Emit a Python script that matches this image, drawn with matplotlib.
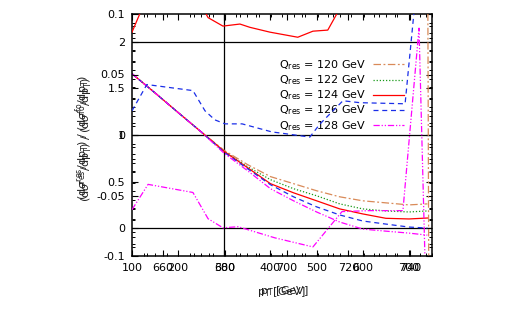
import matplotlib
matplotlib.use("Agg")
import matplotlib.pyplot as plt
from matplotlib.ticker import AutoMinorLocator, FixedLocator

# ---------------- data ----------------
# main set (bottom axis 100..750, left ratio scale)
pt_main = [100, 150, 200, 250, 300, 350, 400, 450, 500, 550, 600, 650, 700, 740]
common = [1.658, 1.452, 1.241, 1.033]
r120 = common + [0.834, 0.683, 0.553, 0.477, 0.401, 0.336, 0.293, 0.271, 0.249, 0.260]
r122 = common + [0.823, 0.661, 0.520, 0.423, 0.347, 0.260, 0.206, 0.184, 0.173, 0.184]
r124 = common + [0.823, 0.650, 0.477, 0.379, 0.293, 0.206, 0.152, 0.105, 0.098, 0.108]
r126 = common + [0.813, 0.639, 0.466, 0.336, 0.228, 0.141, 0.076, 0.043, 0.011, 0.000]
r128 = common + [0.802, 0.618, 0.423, 0.293, 0.173, 0.065, -0.011, -0.033, -0.054, -0.076]

# second overlaid set (pT 650..747, ratio scale -0.1..0.1)
pt2_124 = [650, 655, 672, 673.6, 674.6, 679.4, 684.9, 688.1, 694.6, 703.6, 708.5, 713.3, 716.2, 720]
v2_124 = [0.085, 0.115, 0.115, 0.1017, 0.097, 0.090, 0.0917, 0.089, 0.085, 0.0808, 0.0858, 0.0867, 0.100, 0.13]
pt2_126 = [650, 654.8, 669.7, 673.6, 676.8, 680.1, 685.6, 695.3, 697.8, 707.5, 710.8, 718.2, 723.7, 738.3, 741.5]
v2_126 = [0.020, 0.0417, 0.0367, 0.020, 0.0125, 0.0092, 0.0092, 0.0025, 0.0017, -0.0017, 0.0092, 0.0283, 0.0267, 0.0258, 0.11]
pt2_128 = [650, 655.2, 669.7, 674.6, 679.4, 684.3, 696.2, 708.5, 717.9, 727.0, 737.6, 742.8, 744.7]
v2_128 = [-0.0617, -0.0408, -0.0475, -0.0692, -0.0767, -0.0758, -0.085, -0.0925, -0.0633, -0.0625, -0.0625, 0.0883, -0.0992]
pt2_120 = [745.6, 746.0]
v2_120 = [0.15, -0.15]

labels = [r"Q$_{\rm res}$ = 120 GeV", r"Q$_{\rm res}$ = 122 GeV", r"Q$_{\rm res}$ = 124 GeV",
          r"Q$_{\rm res}$ = 126 GeV", r"Q$_{\rm res}$ = 128 GeV"]
xticks1 = [100, 200, 300, 400, 500, 600, 700]
yticks1 = [0, 0.5, 1, 1.5, 2]
xticks2 = [660, 680, 700, 720, 740]
yticks2 = [-0.1, -0.05, 0, 0.05, 0.1]

c_or, c_gr, c_rd, c_bl, c_mg = "#d98a58", "#1a9a1a", "#ff0000", "#1a2ee8", "#ff00ff"

plt.rcParams['font.family'] = ['DejaVu Sans']
plt.rcParams['mathtext.fontset'] = 'dejavusans'

fig = plt.figure(figsize=(5.23, 3.14), dpi=100)
rect = [132/523, 1-256/314, 300/523, 242/314]
ax1 = fig.add_axes(rect)
ax2 = fig.add_axes(rect, frameon=False)

lw = 0.9
ax1.plot(pt_main, r120, color=c_or, lw=lw, dashes=[6, 2, 1.5, 2], label=labels[0])
ax1.plot(pt_main, r122, color=c_gr, lw=lw, linestyle=(0, (1, 1.5)), label=labels[1])
ax1.plot(pt_main, r124, color=c_rd, lw=lw, label=labels[2])
ax1.plot(pt_main, r126, color=c_bl, lw=lw, linestyle=(0, (4, 3)), label=labels[3])
ax1.plot(pt_main, r128, color=c_mg, lw=lw, dashes=[5, 1.5, 1, 1.5, 1, 1.5], label=labels[4])

for v in [0, 1, 2]:
    ax1.axhline(v, color='black', lw=0.9, zorder=0.5)
ax1.axvline(300, color='black', lw=0.9, zorder=0.5)

ax1.set_xlim(100, 750)
ax1.set_ylim(-0.3, 2.3)
ax1.xaxis.set_major_locator(FixedLocator(xticks1))
ax1.yaxis.set_major_locator(FixedLocator(yticks1))
ax1.xaxis.set_minor_locator(AutoMinorLocator(4))
ax1.yaxis.set_minor_locator(AutoMinorLocator(5))
ax1.set_yticklabels(["0", "0.5", "1", "1.5", "2"])

ax2.plot(pt2_124, v2_124, color=c_rd, lw=lw)
ax2.plot(pt2_126, v2_126, color=c_bl, lw=lw, linestyle=(0, (4, 3)))
ax2.plot(pt2_128, v2_128, color=c_mg, lw=lw, dashes=[5, 1.5, 1, 1.5, 1, 1.5])
ax2.plot(pt2_120, v2_120, color=c_or, lw=lw, dashes=[6, 2, 1.5, 2])
ax2.set_xlim(650, 747)
ax2.set_ylim(-0.1, 0.1)
ax2.xaxis.set_major_locator(FixedLocator(xticks2))
ax2.yaxis.set_major_locator(FixedLocator(yticks2))
ax2.xaxis.set_minor_locator(AutoMinorLocator(4))
ax2.yaxis.set_minor_locator(AutoMinorLocator(5))
ax2.set_yticklabels(["-0.1", "-0.05", "0", "0.05", "0.1"])
ax2.patch.set_visible(False)

for ax in (ax1, ax2):
    ax.tick_params(which='both', direction='in', top=True, right=True, labelsize=8, color='black')
    ax.tick_params(which='major', length=4, width=0.8, pad=5)
    ax.tick_params(which='minor', length=2, width=0.7)
for s in ax1.spines.values():
    s.set_linewidth(1.1)

leg = ax1.legend(loc='upper right', bbox_to_anchor=(0.925, 0.84), frameon=False, markerfirst=False,
                 fontsize=8, handlelength=2.8, handletextpad=0.6, labelspacing=0.12, borderpad=0)

ylab = r"(d$\sigma^{\rm res}$/dp$_{\rm T}$) / (d$\sigma^{\rm fo}$/dp$_{\rm T}$)"
fig.text(83/523, 1-138/314, ylab, rotation=90, ha='center', va='center', fontsize=8, color='#222222')
fig.text(86/523, 1-140/314, ylab, rotation=90, ha='center', va='center', fontsize=8, color='#222222')
xlab = r"p$_{\rm T}$ [GeV]"
fig.text(281/523, 1-292/314, xlab, ha='center', va='center', fontsize=8, color='#222222')
fig.text(284/523, 1-291/314, xlab, ha='center', va='center', fontsize=8, color='#222222')

fig.savefig("out.png", dpi=100)
